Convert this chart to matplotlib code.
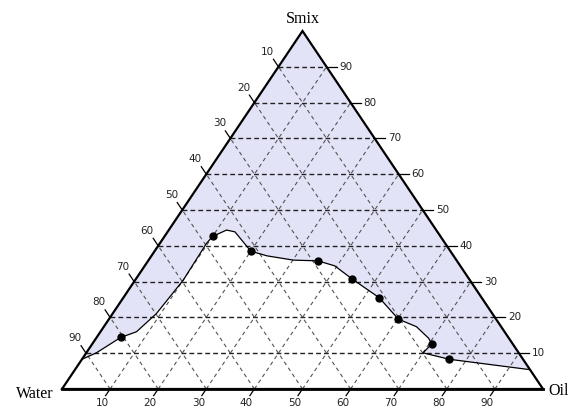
import numpy as np
import matplotlib.pyplot as plt

# Ternary phase diagram: Water (left), Oil (right), Smix (top)
# compositions in %, water = 100 - oil - smix

# measured points (black dots)
oil_pts = [5.0, 10.0, 20.0, 35.3, 45.0, 53.2, 60.2, 70.6, 76.4]
smix_pts = [14.4, 42.6, 38.5, 35.8, 30.7, 25.5, 19.5, 12.6, 8.3]

# boundary line of the shaded region, from the Water-Smix edge to the Oil-Smix edge
oil_line = [0.0, 2.1, 5.0, 7.5, 9.1, 10.0, 9.7, 10.0, 12.0, 14.0, 20.0, 24.0,
            30.1, 35.3, 39.5, 45.0, 53.2, 60.2, 65.0, 69.1, 70.6, 70.0, 76.4, 94.6]
smix_line = [8.3, 10.1, 14.4, 16.0, 21.1, 30.4, 40.7, 42.6, 44.4, 43.9, 38.5, 37.2,
             36.0, 35.8, 34.4, 30.7, 25.5, 19.5, 17.4, 14.2, 12.6, 10.1, 8.3, 5.4]

tick_vals = [10, 20, 30, 40, 50, 60, 70, 80, 90]


def tern(oil, smix):
    # ternary (percent) -> cartesian, Water at (0,0), Oil at (1,0), Smix at (0.5,1)
    o = np.asarray(oil) / 100.0
    s = np.asarray(smix) / 100.0
    return o + s / 2, s


fig = plt.figure(figsize=(5.7, 4.07), dpi=100)
ax = fig.add_axes([0, 0, 1, 1])
ax.set_xlim(-62 / 481, 508 / 481)
ax.set_ylim(-18 / 358, 389 / 358)
ax.axis('off')

# pixel -> data scale factors (for tick lengths)
px = 1 / 481
py = 1 / 358

# shaded region above the boundary line
lx, ly = tern(oil_line, smix_line)
poly_x = list(lx) + [0.5]
poly_y = list(ly) + [1.0]
ax.fill(poly_x, poly_y, color='#e3e3f8', lw=0, zorder=1)

# grid lines
for v in tick_vals:
    f = v / 100
    # constant Smix (horizontal)
    ax.plot([f / 2, 1 - f / 2], [f, f], color='#222222', lw=1.0,
            dashes=(3.5, 2.2), zorder=2)
    # constant Oil (parallel to left edge)
    ax.plot([f, f + (1 - f) / 2], [0, 1 - f], color='#555555', lw=0.8,
            dashes=(3.5, 3), zorder=2)
    # constant Water (parallel to right edge)
    ax.plot([1 - f, (1 - f) / 2], [0, 1 - f], color='#555555', lw=0.8,
            dashes=(3.5, 3), zorder=2)

# triangle outline
ax.plot([0, 1, 0.5, 0], [0, 0, 1, 0], color='black', lw=1.6, zorder=4,
        solid_joinstyle='miter')
ax.plot([0, 1], [0, 0], color='black', lw=2.0, zorder=4)

# boundary line and data points
ax.plot(lx, ly, color='black', lw=0.9, zorder=5, solid_joinstyle='round')
dx, dy = tern(oil_pts, smix_pts)
ax.plot(dx, dy, 'o', color='black', ms=5, zorder=6)

# ticks and tick labels
lab_kw = dict(fontsize=7.5, color='#222222', family='DejaVu Sans',
              textcoords='offset pixels')
for v in tick_vals:
    f = v / 100
    # Smix on the right edge
    x0, y0 = 1 - f / 2, f
    ax.plot([x0, x0 + 10 * px], [y0, y0], color='black', lw=0.9, zorder=4)
    ax.annotate(str(v), (x0, y0), xytext=(13, 0), ha='left', va='center', **lab_kw)
    # Water on the left edge (water = v -> smix = 100 - v)
    x0, y0 = (1 - f) / 2, 1 - f
    ax.plot([x0, x0 - 5 * px], [y0, y0 + 7.5 * py], color='black', lw=0.9, zorder=4)
    ax.annotate(str(v), (x0, y0), xytext=(-11, 15), ha='center', va='center', **lab_kw)
    # Oil on the bottom edge
    x0, y0 = f, 0
    ax.plot([x0, x0 - 4.5 * px], [y0, y0 - 6.6 * py], color='black', lw=0.9, zorder=4)
    ax.annotate(str(v), (x0, y0), xytext=(-8, -14), ha='center', va='center', **lab_kw)

# corner labels
ax.text(0.5, 1 + 4 * py, 'Smix', ha='center', va='bottom', fontsize=11.5,
        family='Liberation Serif')
ax.text(-8 * px, -9 * py, 'Water', ha='right', va='baseline', fontsize=11.5,
        family='Liberation Serif')
ax.text(1 + 5 * px, -6 * py, 'Oil', ha='left', va='baseline', fontsize=11.5,
        family='Liberation Serif')

fig.savefig('out.png', dpi=100)
